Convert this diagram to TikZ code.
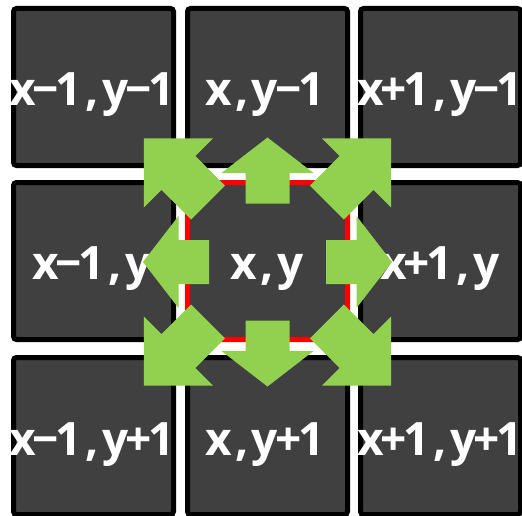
\documentclass[tikz,border=0pt]{standalone}
\usepackage{fontspec}
\setmainfont{Open Sans}
\definecolor{cellgray}{HTML}{404040}
\definecolor{arrowgreen}{HTML}{92D050}
\newcommand\cc[1]{\makebox[23.2pt]{#1}}
\tikzset{
  cell/.style={draw=black, line width=5pt, fill=cellgray, rounded corners=3pt,
    minimum width=160pt, minimum height=157pt, inner sep=0pt},
  centercell/.style={cell, draw=red},
  lbl/.style={text=white, anchor=base, inner sep=0pt,
    font=\fontsize{46pt}{50pt}\selectfont\bfseries},
  garrow/.style={fill=arrowgreen, draw=none}
}
\begin{document}
\begin{tikzpicture}[x=1pt,y=-1pt]
\useasboundingbox (0,0) rectangle (522,516);
\clip (0,0) rectangle (522,516);
% cells
\node[cell] (c11) at (93.5,87) {};
\node[cell] (c21) at (267.5,87) {};
\node[cell] (c31) at (440.5,87) {};
\node[cell] (c12) at (93.5,261) {};
\node[centercell] (c22) at (267.5,261) {};
\node[cell] (c32) at (440.5,261) {};
\node[cell] (c13) at (93.5,436) {};
\node[cell] (c23) at (267.5,436) {};
\node[cell] (c33) at (440.5,436) {};
% labels
\node[lbl] (l11) at (92,106) {\cc{x}\cc{−}\cc{1}\cc{,}\cc{y}\cc{−}\cc{1}};
\node[lbl] (l21) at (265,106) {\cc{x}\cc{,}\cc{y}\cc{−}\cc{1}};
\node[lbl] (l31) at (440,106) {\cc{x}\cc{+}\cc{1}\cc{,}\cc{y}\cc{−}\cc{1}};
\node[lbl] (l12) at (92,279) {\cc{x}\cc{−}\cc{1}\cc{,}\cc{y}};
\node[lbl] (l22) at (267,279) {\cc{x}\cc{,}\cc{y}};
\node[lbl] (l32) at (440,279) {\cc{x}\cc{+}\cc{1}\cc{,}\cc{y}};
\node[lbl] (l13) at (92,455) {\cc{x}\cc{−}\cc{1}\cc{,}\cc{y}\cc{+}\cc{1}};
\node[lbl] (l23) at (265,455) {\cc{x}\cc{,}\cc{y}\cc{+}\cc{1}};
\node[lbl] (l33) at (440,455) {\cc{x}\cc{+}\cc{1}\cc{,}\cc{y}\cc{+}\cc{1}};
% arrows
\coordinate (ctr) at (267.5,262);
\foreach \a in {0,90,180,270}{
  \begin{scope}[shift={(ctr)}, rotate=\a]
    \fill[garrow] (58.5,-22) -- (89,-22) -- (89,-46) -- (124.5,0) -- (89,46) -- (89,22) -- (58.5,22) -- cycle;
  \end{scope}
}
\foreach \a in {45,135,225,315}{
  \begin{scope}[shift={(ctr)}, rotate=\a]
    \fill[garrow] (84,-24) -- (126,-24) -- (126,-49) -- (175,0) -- (126,49) -- (126,24) -- (84,24) -- cycle;
  \end{scope}
}
\end{tikzpicture}
\end{document}
